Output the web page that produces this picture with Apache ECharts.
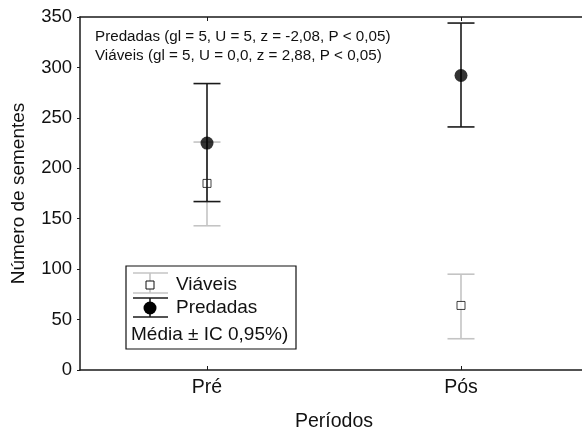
<!DOCTYPE html>
<html><head><meta charset="utf-8">
<script src="https://cdn.jsdelivr.net/npm/echarts@6/dist/echarts.min.js"></script>
<style>html,body{margin:0;padding:0;background:#fff}#c{width:582px;height:430px}</style>
</head><body><div id="c"></div>
<script>
const categories = ['Pré', 'Pós'];
const predMean = [225, 292];
const predLow = [167, 241];
const predHigh = [284, 344];
const viaMean = [185, 64];
const viaLow = [143, 31];
const viaHigh = [226, 95];
const yTicks = [0, 50, 100, 150, 200, 250, 300, 350];
const annotations = [
  'Predadas (gl = 5, U = 5, z = -2,08, P < 0,05)',
  'Viáveis (gl = 5, U = 0,0, z = 2,88, P < 0,05)'
];
const legendLabels = ['Viáveis', 'Predadas', 'Média ± IC 0,95%)'];

const FONT = 'Liberation Sans, Arial, sans-serif';
const DARK = '#1a1a1a';
const GREY = '#c4c4c4';

function errRender(color) {
  return function (params, api) {
    const x = api.value(0);
    const lo = api.coord([x, api.value(1)]);
    const hi = api.coord([x, api.value(2)]);
    const hw = 13.5;
    const st = { stroke: color, lineWidth: 1.6 };
    return {
      type: 'group',
      children: [
        { type: 'line', shape: { x1: lo[0], y1: lo[1], x2: hi[0], y2: hi[1] }, style: st },
        { type: 'line', shape: { x1: lo[0] - hw, y1: lo[1], x2: lo[0] + hw, y2: lo[1] }, style: st },
        { type: 'line', shape: { x1: hi[0] - hw, y1: hi[1], x2: hi[0] + hw, y2: hi[1] }, style: st }
      ]
    };
  };
}

const chart = echarts.init(document.getElementById('c'), null, { renderer: 'canvas' });
const axisLine = { show: true, lineStyle: { color: DARK, width: 1.5 } };
const option = {
  animation: false,
  backgroundColor: '#fff',
  textStyle: { fontFamily: FONT },
  grid: { left: 80, top: 17, width: 508, height: 353, containLabel: false, outerBoundsMode: 'none' },
  xAxis: [
    {
      type: 'category', data: categories, position: 'bottom',
      axisLine: axisLine,
      axisTick: { show: true, inside: true, alignWithLabel: true, length: 4, lineStyle: { color: DARK } },
      axisLabel: { fontSize: 19.5, color: '#111', margin: 8, fontFamily: FONT },
      name: 'Períodos', nameLocation: 'middle', nameGap: 42,
      nameTextStyle: { fontSize: 19.5, color: '#111', fontFamily: FONT },
      splitLine: { show: false }
    },
    {
      type: 'category', data: categories, position: 'top',
      axisLine: axisLine,
      axisTick: { show: true, inside: true, alignWithLabel: true, length: 4, lineStyle: { color: DARK } },
      axisLabel: { show: false },
      splitLine: { show: false }
    }
  ],
  yAxis: {
    type: 'value', min: yTicks[0], max: yTicks[yTicks.length - 1], interval: yTicks[1] - yTicks[0],
    axisLine: axisLine,
    axisTick: { show: true, inside: false, length: 3, lineStyle: { color: DARK } },
    axisLabel: { fontSize: 18.5, color: '#111', margin: 8, fontFamily: FONT },
    splitLine: { show: false },
    name: 'Número de sementes', nameLocation: 'middle', nameGap: 52,
    nameTextStyle: { fontSize: 19, color: '#111', fontFamily: FONT }
  },
  series: [
    {
      type: 'custom', renderItem: errRender(GREY), z: 2,
      data: categories.map((c, i) => [i, viaLow[i], viaHigh[i]])
    },
    {
      type: 'scatter', symbol: 'rect', symbolSize: 8, z: 3,
      itemStyle: { color: '#fff', borderColor: '#111', borderWidth: 1 },
      data: categories.map((c, i) => [i, viaMean[i]])
    },
    {
      type: 'custom', renderItem: errRender(DARK), z: 4,
      data: categories.map((c, i) => [i, predLow[i], predHigh[i]])
    },
    {
      type: 'scatter', symbol: 'circle', symbolSize: 13, z: 5,
      itemStyle: { color: '#000' },
      data: categories.map((c, i) => [i, predMean[i]])
    }
  ],
  graphic: [
    { type: 'text', x: 95, y: 37, style: { text: annotations[0], font: '15.2px ' + FONT, fill: '#111', verticalAlign: 'middle' } },
    { type: 'text', x: 95, y: 56, style: { text: annotations[1], font: '15.2px ' + FONT, fill: '#111', verticalAlign: 'middle' } },
    { type: 'rect', shape: { x: 126, y: 266, width: 170, height: 83 }, style: { fill: '#fff', stroke: '#111', lineWidth: 1.2 }, z: 10 },
    { type: 'line', shape: { x1: 150, y1: 273, x2: 150, y2: 293 }, style: { stroke: GREY, lineWidth: 1.6 }, z: 11 },
    { type: 'line', shape: { x1: 133, y1: 273, x2: 168, y2: 273 }, style: { stroke: GREY, lineWidth: 1.6 }, z: 11 },
    { type: 'line', shape: { x1: 133, y1: 293, x2: 168, y2: 293 }, style: { stroke: GREY, lineWidth: 1.6 }, z: 11 },
    { type: 'rect', shape: { x: 146, y: 281, width: 8, height: 8 }, style: { fill: '#fff', stroke: '#111', lineWidth: 1 }, z: 12 },
    { type: 'text', x: 176, y: 285, style: { text: legendLabels[0], font: '19px ' + FONT, fill: '#111', verticalAlign: 'middle' }, z: 12 },
    { type: 'line', shape: { x1: 150, y1: 298, x2: 150, y2: 317 }, style: { stroke: DARK, lineWidth: 1.6 }, z: 11 },
    { type: 'line', shape: { x1: 133, y1: 298, x2: 168, y2: 298 }, style: { stroke: DARK, lineWidth: 1.6 }, z: 11 },
    { type: 'line', shape: { x1: 133, y1: 317, x2: 168, y2: 317 }, style: { stroke: DARK, lineWidth: 1.6 }, z: 11 },
    { type: 'circle', shape: { cx: 150, cy: 308, r: 6.5 }, style: { fill: '#000' }, z: 12 },
    { type: 'text', x: 176, y: 308, style: { text: legendLabels[1], font: '19px ' + FONT, fill: '#111', verticalAlign: 'middle' }, z: 12 },
    { type: 'text', x: 131, y: 335, style: { text: legendLabels[2], font: '19px ' + FONT, fill: '#111', verticalAlign: 'middle' }, z: 12 }
  ]
};
chart.setOption(option);
</script>
</body></html>
